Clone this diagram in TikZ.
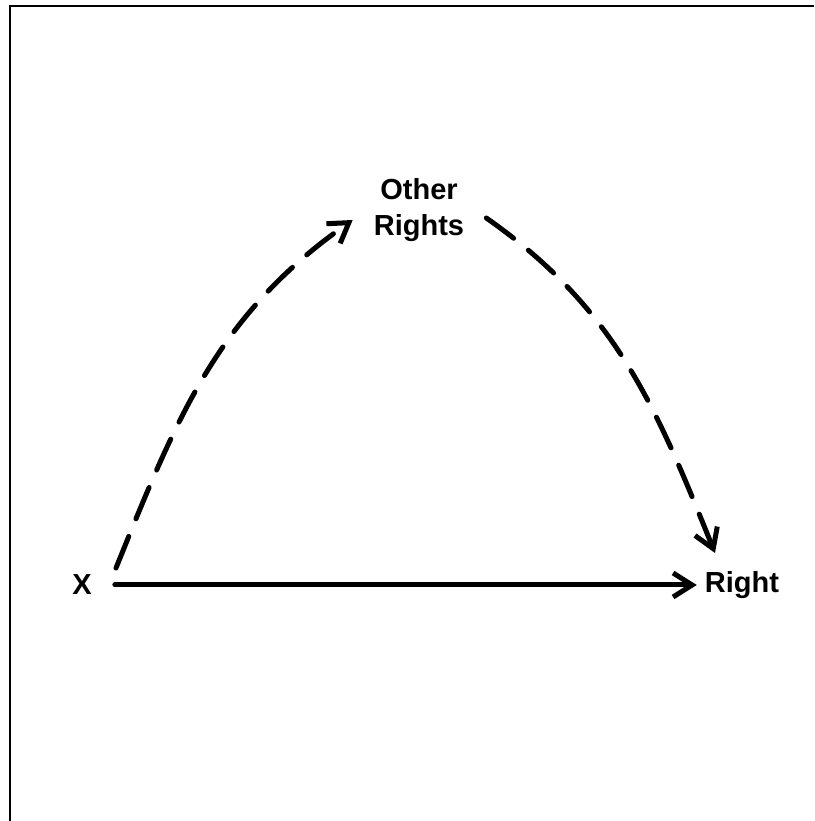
\documentclass[tikz,border=0pt]{standalone}
\usepackage{fontspec}
\setmainfont{Liberation Sans}
\usetikzlibrary{arrows.meta}
\begin{document}
\begin{tikzpicture}[x=1pt,y=1pt,
    lbl/.style={inner sep=0pt,font=\bfseries\fontsize{29}{36}\selectfont,align=center},
    link/.style={line width=5pt,line cap=round,line join=round,
      -{Straight Barb[length=19pt,width=24pt]}},
    maybe/.style={link,dash pattern=on 34pt off 19pt}]
    \useasboundingbox (0,0) rectangle (814,821);
    % Frame
    \draw[line width=1.5pt] (10,0) -- (10,815) -- (814,815);
    % Labels
    \node[lbl] (x) at (82,236) {X};
    \node[lbl] (right) at (742,236) {Right};
    \node[lbl] (other) at (419,611) {Other\\Rights};
    % Direct path
    \draw[link,shorten <=23pt,shorten >=8pt] (x.east) -- (right.west);
    % Indirect path
    \draw[maybe] ([shift={(34pt,17pt)}]x.center) to[out=68,in=215]
      ([shift={(-21pt,-10pt)}]other.west);
    \draw[maybe] ([shift={(22pt,-8pt)}]other.east) to[out=-35,in=112]
      ([shift={(-27pt,32pt)}]right.center);
\end{tikzpicture}
\end{document}
